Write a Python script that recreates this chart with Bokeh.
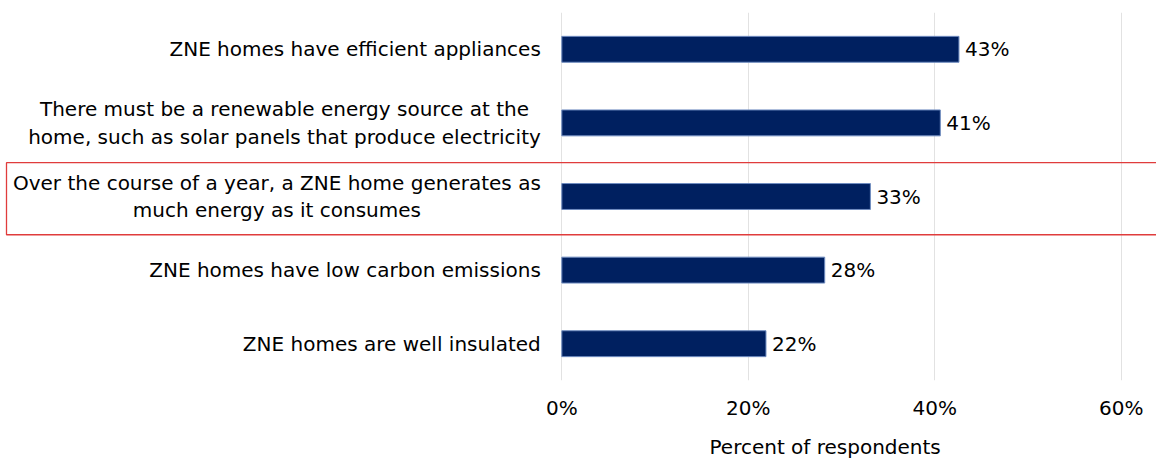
from bokeh.plotting import figure, ColumnDataSource
from bokeh.models import Range1d, FixedTicker, PrintfTickFormatter, BoxAnnotation, Title
from bokeh.embed import file_html
from bokeh.resources import INLINE
from bokeh.core.properties import value

categories = [
    "ZNE homes have efficient appliances",
    "There must be a renewable energy source at the\nhome, such as solar panels that produce electricity",
    "Over the course of a year, a ZNE home generates as\nmuch energy as it consumes",
    "ZNE homes have low carbon emissions",
    "ZNE homes are well insulated",
]
percent = [42.6, 40.6, 33.1, 28.2, 21.9]
x_ticks = [0, 20, 40, 60]
highlighted_index = 2
axis_title = "Percent of respondents"

FONT = "DejaVu Sans"
FS = "20px"
BAR_COLOR = "#002060"

n = len(categories)
ys = [n - 1 - i for i in range(n)]
labels = [f"{round(v)}%" for v in percent]
src = ColumnDataSource(dict(y=ys, pct=percent, lbl=labels, cat=categories))

W, H = 1156, 469
x_start, x_end = -60.21, 63.79
px_per_unit = W / (x_end - x_start)

p = figure(width=W, height=H, x_range=Range1d(x_start, x_end), y_range=Range1d(-0.5, n - 0.5),
           output_backend="svg", toolbar_location=None, y_axis_location=None,
           min_border_left=0, min_border_right=0, min_border_top=12, min_border_bottom=88)
p.outline_line_color = None
p.background_fill_color = "white"
p.border_fill_color = "white"

p.ygrid.visible = False
p.xgrid.ticker = FixedTicker(ticks=x_ticks)
p.xgrid.grid_line_color = "#e2e2e2"
p.xgrid.grid_line_width = 1

ax = p.xaxis[0]
ax.ticker = FixedTicker(ticks=x_ticks)
ax.formatter = PrintfTickFormatter(format="%d%%")
ax.axis_line_color = None
ax.major_tick_line_color = None
ax.minor_tick_line_color = None
ax.major_tick_out = 0
ax.major_tick_in = 0
ax.major_label_standoff = 15
ax.major_label_text_font = FONT
ax.major_label_text_font_size = FS
ax.major_label_text_color = "#000000"

p.hbar(y="y", left=0, right="pct", height=0.352, fill_color=BAR_COLOR,
       line_color="#6f8cc0", line_width=1, source=src)

p.text(x="pct", y="y", text="lbl", x_offset=6, text_align="left", text_baseline="middle",
       text_font=value(FONT), text_font_size=FS, text_color="#000000", source=src)

p.text(x=0, y="y", text="cat", x_offset=-21, anchor="center_right", text_align="center",
       text_baseline="middle", text_line_height=1.15,
       text_font=value(FONT), text_font_size=FS, text_color="#000000", source=src)

hy = ys[highlighted_index]
box = BoxAnnotation(left=6, left_units="screen", right=x_end + 1, top=hy + 0.46, bottom=hy - 0.52,
                    fill_alpha=0, line_color="#e03c3c", line_alpha=1.0, line_width=1.3)
p.add_layout(box)

# axis title: centred under the 0-60 % span (slightly left), left-aligned title with offset
mid = (x_ticks[0] + x_ticks[-1]) / 2
title_half_width = 116
title_offset = (mid - x_start) * px_per_unit - 16 - title_half_width
t = Title(text=axis_title, align="left", offset=title_offset, standoff=21,
          text_font=FONT, text_font_size=FS, text_font_style="normal", text_color="#000000")
p.add_layout(t, "below")

open("out.html", "w").write(file_html(p, INLINE))
